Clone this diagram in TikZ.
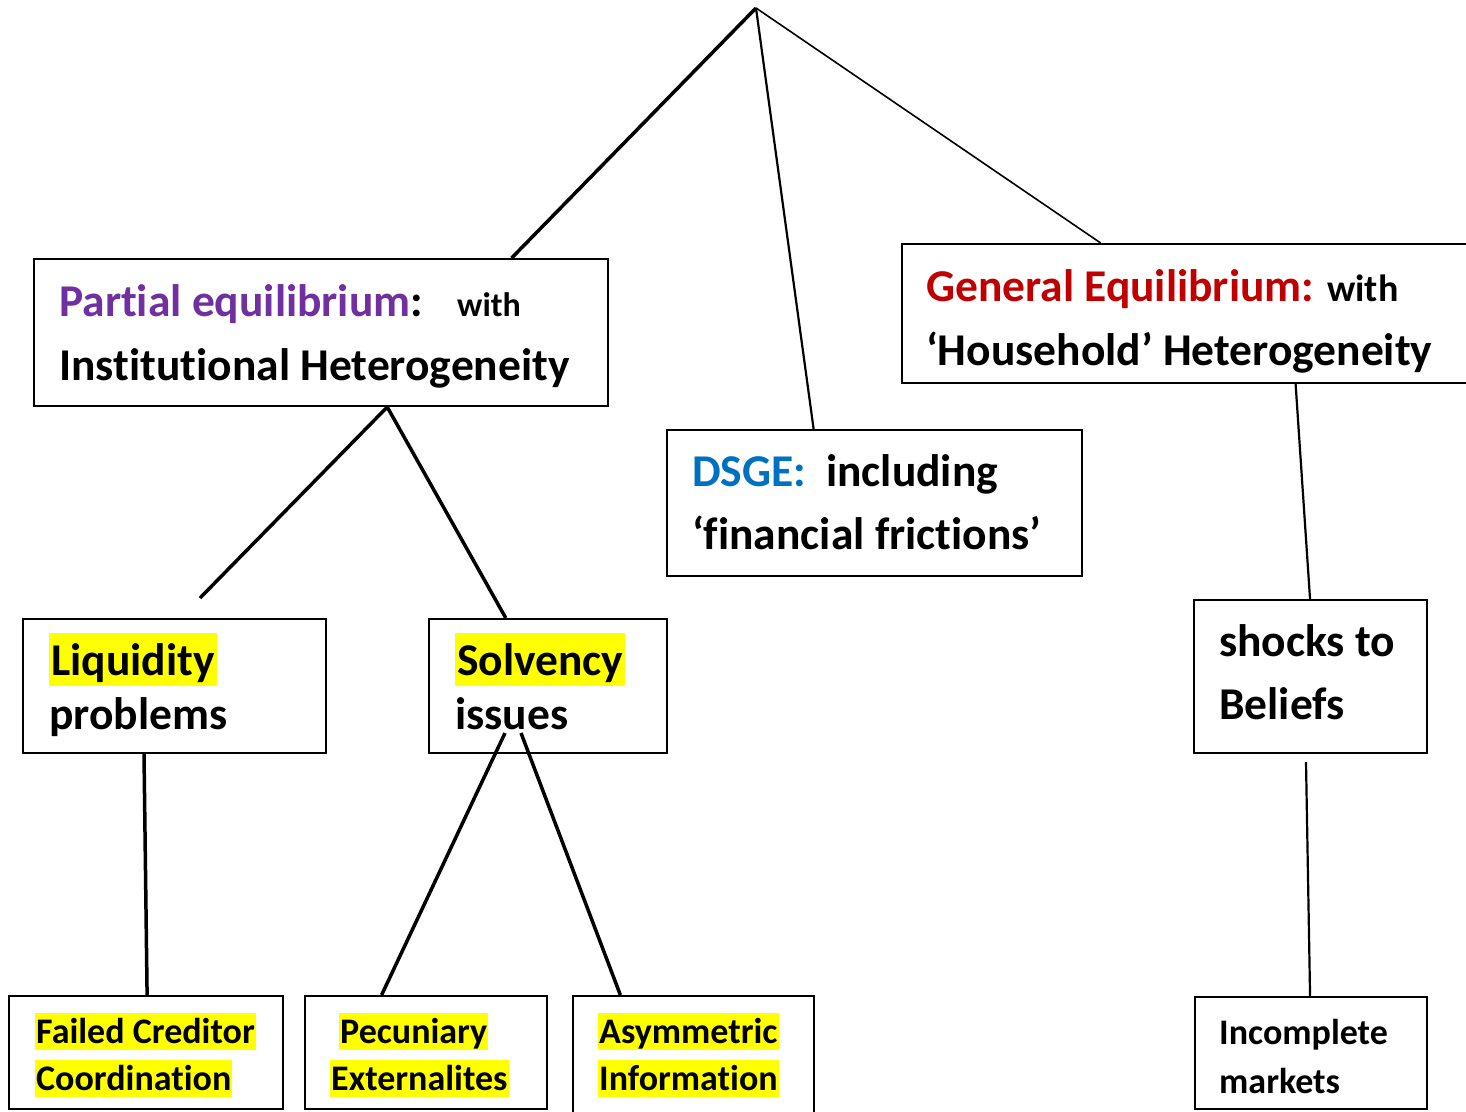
\documentclass[tikz,border=0pt]{standalone}
\usepackage{fontspec}
\setmainfont{Carlito}[Ligatures={TeX,NoCommon}]
\usetikzlibrary{calc}
\definecolor{pepurple}{HTML}{7030A0}
\definecolor{gered}{HTML}{C00000}
\definecolor{dsgeblue}{HTML}{0070C0}
\definecolor{hlyellow}{HTML}{FFFF00}
\tikzset{
  box/.style={draw, line width=2pt, inner sep=0pt, anchor=north west},
  big/.style={font=\bfseries\fontsize{45.5}{52}\selectfont, inner sep=0pt, anchor=base west},
  med/.style={font=\bfseries\fontsize{34}{40}\selectfont, inner sep=0pt, anchor=base west},
  medb/.style={font=\bfseries\fontsize{38}{44}\selectfont, inner sep=0pt, anchor=base west},
  small/.style={font=\bfseries\fontsize{36}{42}\selectfont, inner sep=0pt, anchor=base west},
  hlbig/.style={big, fill=hlyellow, inner xsep=2pt, text height=42pt, text depth=11pt},
  hlsmall/.style={small, fill=hlyellow, inner xsep=1pt, text height=30pt, text depth=7pt},
  heavy/.style={line width=3.5pt},
  medium/.style={line width=2.2pt},
  light/.style={line width=1.6pt}
}
\begin{document}
\begin{tikzpicture}[x=1pt,y=-1pt]
\useasboundingbox (0,0) rectangle (1466,1111);
\clip (0,0) rectangle (1466,1111);
% boxes
\node[box, minimum width=574, minimum height=147] (pe) at (33,258) {};
\node[box, minimum width=580, minimum height=139] (ge) at (901,243) {};
\node[box, minimum width=415, minimum height=146] (dsge) at (666,429) {};
\node[box, minimum width=303, minimum height=134] (liq) at (22,618) {};
\node[box, minimum width=238, minimum height=134] (solv) at (428,618) {};
\node[box, minimum width=233, minimum height=153] (shk) at (1193,599) {};
\node[box, minimum width=274, minimum height=113] (fcc) at (8,995) {};
\node[box, minimum width=242, minimum height=113] (pec) at (304,995) {};
\node[box, minimum width=241, minimum height=125] (asym) at (572,995) {};
\node[box, minimum width=232, minimum height=112] (inc) at (1194,996) {};
% texts
\node[big] (pe1) at (59,316) {\textcolor{pepurple}{Partial equilibrium}:};
\node[med] (pe1w) at (457,316) {with};
\node[big] (pe2) at (59,380) {Institutional Heterogeneity};
\node[big] (ge1) at (926,301) {\textcolor{gered}{General Equilibrium:}};
\node[medb] (ge1w) at (1327,301) {with};
\node[big] (ge2) at (926,365) {‘Household’ Heterogeneity};
\node[big] (ds1) at (692,486) {\textcolor{dsgeblue}{DSGE:}};
\node[big] (ds1b) at (826,486) {including};
\node[big] (ds2) at (692,549) {‘financial frictions’};
\node[hlbig] (liq1) at (49,675) {Liquidity};
\node[big] (liq2) at (49,729) {problems};
\node[hlbig] (solv1) at (455,675) {Solvency};
\node[big] (solv2) at (455,729) {issues};
\node[big] (shk1) at (1219,656) {shocks to};
\node[big] (shk2) at (1219,719) {Beliefs};
\node[hlsmall] (fcc1) at (35,1043) {Failed Creditor};
\node[hlsmall] (fcc2) at (35,1090) {Coordination};
\node[hlsmall] (pec1) at (339,1043) {Pecuniary};
\node[hlsmall] (pec2) at (330,1090) {Externalites};
\node[hlsmall] (asy1) at (598,1043) {Asymmetric};
\node[hlsmall] (asy2) at (598,1090) {Information};
\node[small] (inc1) at (1219,1044) {Incomplete};
\node[small] (inc2) at (1219,1093) {markets};
% connectors
\coordinate (apex) at (756,8);
\coordinate (peBot) at ($(pe.south west)!0.615!(pe.south east)$);
\coordinate (liqEnd) at (200,598);
\coordinate (solvA) at (505,733);
\coordinate (solvB) at (521,733);
\coordinate (shkEnd) at (1306,762);
\draw[heavy] (apex) -- ($(pe.north west)!0.831!(pe.north east)$);
\draw[medium] (apex) -- ($(dsge.north west)!0.354!(dsge.north east)$);
\draw[light] (apex) -- ($(ge.north west)!0.343!(ge.north east)$);
\draw[heavy] (peBot) -- (liqEnd);
\draw[heavy] (peBot) -- ($(solv.north west)!0.324!(solv.north east)$);
\draw[heavy] ($(liq.south west)!0.40!(liq.south east)$) -- ($(fcc.north west)!0.504!(fcc.north east)$);
\draw[heavy] (solvA) -- ($(pec.north west)!0.318!(pec.north east)$);
\draw[heavy] (solvB) -- ($(asym.north west)!0.199!(asym.north east)$);
\draw[medium] ($(ge.south west)!0.678!(ge.south east)$) -- ($(shk.north west)!0.498!(shk.north east)$);
\draw[medium] (shkEnd) -- ($(inc.north west)!0.496!(inc.north east)$);
\end{tikzpicture}
\end{document}
